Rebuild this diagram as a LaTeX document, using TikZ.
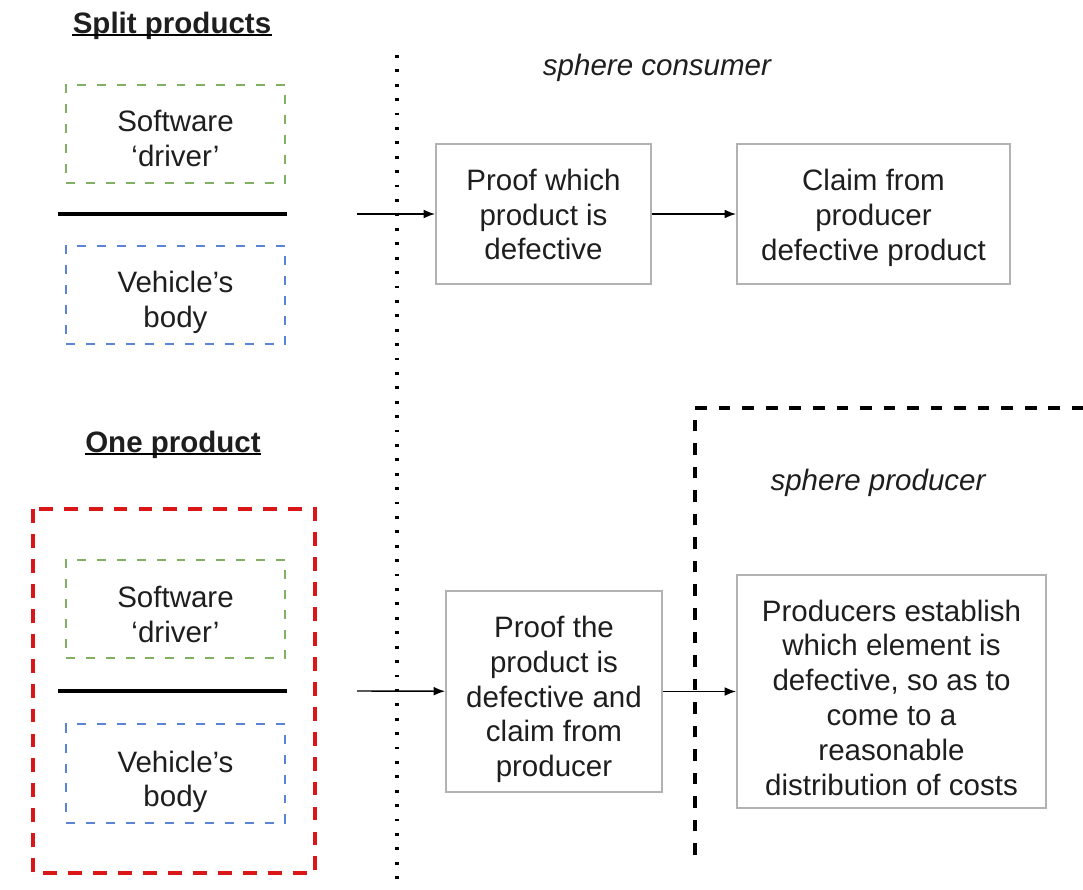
\documentclass[tikz,border=0pt]{standalone}
\usepackage{fontspec}
\setmainfont{Liberation Sans}
\usetikzlibrary{arrows.meta}

\definecolor{swgreen}{RGB}{128,176,98}
\definecolor{vbblue}{RGB}{92,132,212}
\definecolor{onered}{RGB}{218,22,22}
\definecolor{boxgray}{RGB}{178,178,178}
\definecolor{inkgray}{RGB}{30,30,30}

\begin{document}
\begin{tikzpicture}[x=0.02cm, y=-0.02cm,
    font=\fontsize{16.8}{19.8}\selectfont, text=inkgray,
    part/.style={draw, line width=1.1pt, dash pattern=on 5.1pt off 6.2pt,
        minimum width=4.38cm, minimum height=1.97cm, inner sep=0pt},
    stepbox/.style={draw=boxgray, line width=1.1pt, inner sep=0pt},
    boxtext/.style={align=center, inner sep=0pt},
    title/.style={anchor=base, font=\fontsize{16.8}{19.8}\selectfont\bfseries, inner sep=0pt},
    sphere/.style={anchor=base, font=\fontsize{16.8}{19.8}\selectfont\itshape},
    flow/.style={-{Latex[length=6.5pt,width=5pt]}, line width=0.8pt}]

        \useasboundingbox (0, 0) rectangle (1083, 890);

        % split products
        \node[title] at (172, 33.5)  (tsplit)  {Split products};
        \draw[line width=1.1pt] ([yshift=-1pt]tsplit.base west) -- ([yshift=-1pt]tsplit.base east);
        \node[part, draw=swgreen] at (175.5, 134)  (sw1)  {};
        \node[boxtext] at ([yshift=-2.6pt]sw1.center)  (sw1t)  {Software\\‘driver’};
        \draw[line width=2.3pt] (58, 214) -- (287, 214);
        \node[part, draw=vbblue] at (175.5, 295)  (vb1)  {};
        \node[boxtext] at ([yshift=-4pt]vb1.center)  (vb1t)  {Vehicle’s\\body};

        % one product
        \node[title] at (173, 452)  (tone)  {One product};
        \draw[line width=1.1pt] ([yshift=-1pt]tone.base west) -- ([yshift=-1pt]tone.base east);
        \draw[onered, line width=2.3pt, dash pattern=on 7.9pt off 6.3pt] (33, 509) rectangle (315, 873);
        \node[part, draw=swgreen] at (175.5, 609)  (sw2)  {};
        \node[boxtext] at ([yshift=-3.1pt]sw2.center)  (sw2t)  {Software\\‘driver’};
        \draw[line width=2.3pt] (58, 691) -- (287, 691);
        \node[part, draw=vbblue] at (175.5, 773.5)  (vb2)  {};
        \node[boxtext] at ([yshift=-4.8pt]vb2.center)  (vb2t)  {Vehicle’s\\body};

        % spheres
        \draw[line width=1.8pt, dash pattern=on 1.6pt off 6.6pt] (397, 55) -- (397, 890);
        \node[sphere] at (657, 75)  (scons)  {sphere consumer};
        \draw[line width=1.8pt, dash pattern=on 6.6pt off 6.8pt] (695, 855) -- (695, 408) -- (1083, 408);
        \node[sphere] at (878, 490)  (sprod)  {sphere producer};

        % steps
        \node[stepbox, minimum width=4.3cm, minimum height=2.8cm] at (543.5, 214)  (proof1)  {};
        \node[boxtext] at ([yshift=-0.3pt]proof1.center)  (proof1t)
            {Proof which\\product is\\defective};
        \node[stepbox, minimum width=5.46cm, minimum height=2.8cm] at (873.5, 214)  (claim1)  {};
        \node[boxtext] at ([yshift=-2.3pt]claim1.center)  (claim1t)
            {Claim from\\producer\\defective product};
        \node[stepbox, minimum width=4.32cm, minimum height=4.02cm] at (554, 691.5)  (proof2)  {};
        \node[boxtext] at ([yshift=-4.5pt]proof2.center)  (proof2t)
            {Proof the\\product is\\defective and\\claim from\\producer};
        \node[stepbox, minimum width=6.18cm, minimum height=4.66cm] at (891.5, 691.5)  (estab)  {};
        \node[boxtext] at ([yshift=-3.4pt]estab.center)  (estabt)
            {Producers establish\\which element is\\defective, so as to\\come to a\\reasonable\\distribution of costs};

        \coordinate (in1) at (357, 214);
        \coordinate (in2) at (357, 691);

        \draw[flow]  (in1) -- (proof1);
        \draw[flow]  (proof1) -- (claim1);
        \draw[flow]  (in2) -- (proof2);
        \draw[flow]  (proof2) -- (estab);

    \end{tikzpicture}
\end{document}
